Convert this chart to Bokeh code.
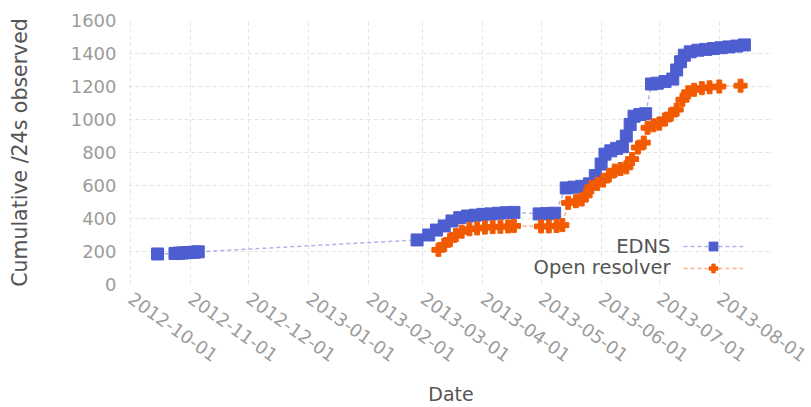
from datetime import datetime
from bokeh.plotting import figure
from bokeh.models import (FixedTicker, Label, Legend, LegendItem, Range1d,
                          DatetimeTickFormatter)
from bokeh.embed import file_html
from bokeh.resources import INLINE

# ---------------- data ----------------
edns_dates = [
    "2012-10-15", "2012-10-24", "2012-10-26", "2012-10-28", "2012-10-30",
    "2012-11-01", "2012-11-03", "2012-11-05",
    "2013-02-26", "2013-03-04", "2013-03-08", "2013-03-12", "2013-03-16",
    "2013-03-20", "2013-03-24", "2013-03-28", "2013-04-01", "2013-04-05",
    "2013-04-09", "2013-04-13", "2013-04-17",
    "2013-04-30", "2013-05-04", "2013-05-08", "2013-05-14", "2013-05-18",
    "2013-05-22", "2013-05-26", "2013-05-29", "2013-06-01", "2013-06-03",
    "2013-06-06", "2013-06-09", "2013-06-12", "2013-06-14", "2013-06-16",
    "2013-06-18", "2013-06-21", "2013-06-24", "2013-06-27", "2013-06-30",
    "2013-07-04", "2013-07-08", "2013-07-10", "2013-07-12", "2013-07-14",
    "2013-07-17", "2013-07-21", "2013-07-25", "2013-07-29", "2013-08-02",
    "2013-08-06", "2013-08-10", "2013-08-14",
]
edns_values = [
    185, 188, 190, 191, 193,
    194, 196, 198,
    270, 300, 330, 355, 385,
    405, 415, 420, 425, 428,
    432, 435, 437,
    428, 430, 432, 585, 590,
    595, 610, 660, 730, 790,
    810, 825, 835, 900, 970,
    1020, 1030, 1035, 1215, 1220,
    1230, 1245, 1300, 1350, 1390,
    1410, 1420, 1425, 1430, 1435,
    1440, 1445, 1452,
]

open_dates = [
    "2013-03-09", "2013-03-12", "2013-03-15", "2013-03-18", "2013-03-21",
    "2013-03-25", "2013-03-29", "2013-04-02", "2013-04-06", "2013-04-10",
    "2013-04-14", "2013-04-17",
    "2013-05-01", "2013-05-05", "2013-05-09", "2013-05-12", "2013-05-15",
    "2013-05-19", "2013-05-22", "2013-05-24", "2013-05-27", "2013-05-30",
    "2013-06-02", "2013-06-05", "2013-06-08", "2013-06-11", "2013-06-14",
    "2013-06-17", "2013-06-20", "2013-06-23", "2013-06-25", "2013-06-28",
    "2013-07-01", "2013-07-04", "2013-07-07", "2013-07-10", "2013-07-13",
    "2013-07-16", "2013-07-19", "2013-07-23", "2013-07-27", "2013-08-01",
    "2013-08-12",
]
open_values = [
    210, 240, 270, 300, 320,
    335, 340, 345, 348, 350,
    352, 355,
    352, 352, 355, 360, 495,
    505, 515, 540, 590, 610,
    630, 660, 690, 700, 710,
    760, 830, 860, 950, 965,
    975, 1000, 1030, 1060, 1120,
    1165, 1180, 1190, 1195, 1200,
    1205,
]

x_tick_labels = [
    "2012-10-01", "2012-11-01", "2012-12-01", "2013-01-01", "2013-02-01",
    "2013-03-01", "2013-04-01", "2013-05-01", "2013-06-01", "2013-07-01",
    "2013-08-01",
]
y_ticks = [0, 200, 400, 600, 800, 1000, 1200, 1400, 1600]
series_names = ["EDNS", "Open resolver"]


def to_dt(s):
    return datetime.strptime(s, "%Y-%m-%d")


def to_ms(s):
    return (to_dt(s) - datetime(1970, 1, 1)).total_seconds() * 1000.0


BLUE = "#4d5ed0"
ORANGE = "#f25a02"
TICK_COLOR = "#9c9c9c"
LABEL_COLOR = "#555555"
FONT = "DejaVu Sans"

p = figure(width=811, height=407, x_axis_type="datetime",
           output_backend="svg", toolbar_location=None,
           x_range=Range1d(to_dt("2012-09-30"), to_dt("2013-08-29")),
           y_range=Range1d(0, 1600),
           min_border_left=128, min_border_right=38,
           min_border_top=20, min_border_bottom=123)
p.outline_line_color = None
p.background_fill_color = "white"

for g in (p.xgrid[0], p.ygrid[0]):
    g.grid_line_color = "#e4e4e4"
    g.grid_line_dash = "4 3"
    g.grid_line_width = 1

p.xaxis.ticker = FixedTicker(ticks=[to_ms(s) for s in x_tick_labels])
p.xaxis.formatter = DatetimeTickFormatter(
    milliseconds="%Y-%m-%d", seconds="%Y-%m-%d", minsec="%Y-%m-%d",
    minutes="%Y-%m-%d", hourmin="%Y-%m-%d", hours="%Y-%m-%d",
    days="%Y-%m-%d", months="%Y-%m-%d", years="%Y-%m-%d")
p.yaxis.ticker = FixedTicker(ticks=y_ticks)

for ax in (p.xaxis[0], p.yaxis[0]):
    ax.axis_line_color = None
    ax.major_tick_line_color = None
    ax.minor_tick_line_color = None
    ax.major_tick_out = 0
    ax.major_tick_in = 0
    ax.minor_tick_out = 0
    ax.major_label_text_color = TICK_COLOR
    ax.major_label_text_font = FONT
    ax.major_label_text_font_size = "18px"
    ax.axis_label_text_font = FONT
    ax.axis_label_text_font_style = "normal"
    ax.axis_label_text_color = LABEL_COLOR

p.xaxis.major_label_orientation = -0.62
p.xaxis.major_label_standoff = 12
p.xaxis.axis_label = "Date"
p.xaxis.axis_label_text_font_size = "19px"
p.xaxis.axis_label_standoff = 12
p.yaxis.axis_label = "Cumulative /24s observed"
p.yaxis.axis_label_text_font_size = "20.5px"
p.yaxis.major_label_standoff = 12
p.yaxis.axis_label_standoff = 36

edns_x = [to_dt(s) for s in edns_dates]
open_x = [to_dt(s) for s in open_dates]

r1l = p.line(edns_x, edns_values, line_color=BLUE, line_width=1.5,
             line_dash="4 3", line_alpha=0.45)
r1s = p.scatter(edns_x, edns_values, marker="square", size=12,
                fill_color=BLUE, line_color=BLUE)
r2l = p.line(open_x, open_values, line_color=ORANGE, line_width=1.5,
             line_dash="4 3", line_alpha=0.45)
r2s = p.scatter(open_x, open_values, marker="plus", size=13,
                fill_color=ORANGE, line_color=ORANGE)

legend = Legend(items=[LegendItem(label=" ", renderers=[r1l, r1s]),
                       LegendItem(label=" ", renderers=[r2l, r2s])],
                location=(555, 5), glyph_width=60, glyph_height=22,
                label_width=0, label_height=22, label_standoff=0,
                padding=0, margin=0, spacing=0,
                background_fill_alpha=0, border_line_color=None,
                label_text_font_size="1px")
p.add_layout(legend)

for name, yy in zip(series_names, [38, 17]):
    p.add_layout(Label(x=542, y=yy, x_units="screen", y_units="screen",
                       text=name, text_align="right", text_baseline="middle",
                       text_font=FONT, text_font_size="19.5px",
                       text_color=LABEL_COLOR))

open("out.html", "w").write(file_html(p, INLINE))
